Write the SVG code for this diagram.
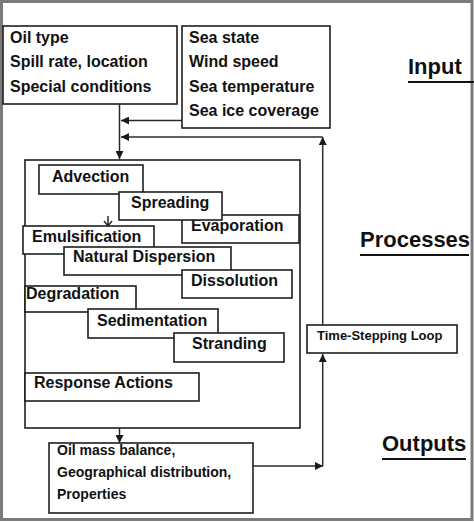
<svg xmlns="http://www.w3.org/2000/svg" width="474" height="522" viewBox="0 0 474 522">
<defs>
<marker id="ah" viewBox="0 0 10 10" refX="10" refY="5" markerUnits="userSpaceOnUse" markerWidth="9" markerHeight="8" orient="auto">
<path d="M0,0 L10,5 L0,10 z" fill="#1a1a1a"/>
</marker>
<style>
.bx{fill:#fff;stroke:#1f1f1f;stroke-width:1.6}
.t{font-family:"Liberation Sans",Arial,sans-serif;font-weight:bold;font-size:16px;fill:#111}
.s{font-size:14px}
.xs{font-size:13px}
.h{font-family:"Liberation Sans",Arial,sans-serif;font-weight:bold;font-size:22px;fill:#111}
.ul{stroke:#111;stroke-width:2.2}
.c{fill:none;stroke:#2a2a2a;stroke-width:1.5}
</style>
</defs>
<rect width="474" height="522" fill="#fff"/>
<rect x="1.5" y="1.5" width="470.5" height="518" fill="none" stroke="#7a7a7a" stroke-width="3"/>

<g id="headings">
<text class="h" x="408" y="74">Input</text>
<line class="ul" x1="408" y1="82" x2="474" y2="82"/>
<text class="h" x="360" y="247">Processes</text>
<line class="ul" x1="360" y1="255" x2="469" y2="255"/>
<text class="h" x="382" y="451">Outputs</text>
<line class="ul" x1="382" y1="459" x2="466" y2="459"/>
</g>

<g id="oil-input">
<rect class="bx" x="3" y="26" width="174" height="78"/>
<text class="t" x="10" y="43">Oil type</text>
<text class="t" x="10" y="67">Spill rate, location</text>
<text class="t" x="10" y="92">Special conditions</text>
</g>

<g id="sea-input">
<rect class="bx" x="182" y="26" width="148" height="102"/>
<text class="t" x="189" y="43">Sea state</text>
<text class="t" x="189" y="67">Wind speed</text>
<text class="t" x="189" y="92">Sea temperature</text>
<text class="t" x="189" y="116">Sea ice coverage</text>
</g>

<g id="processes">
<rect class="bx" x="25" y="160" width="275" height="268"/>
<g id="advection"><rect class="bx" x="39" y="165" width="104" height="29"/><text class="t" x="52" y="182">Advection</text></g>
<g id="evaporation"><rect class="bx" x="182" y="215" width="117" height="28"/><text class="t" x="191" y="231">Evaporation</text></g>
<g id="spreading"><rect class="bx" x="119" y="192" width="103" height="28"/><text class="t" x="131" y="208">Spreading</text></g>
<g id="emulsification"><rect class="bx" x="23" y="226" width="131" height="28"/><text class="t" x="32" y="242">Emulsification</text></g>
<g id="natural-dispersion"><rect class="bx" x="64" y="247" width="167" height="28"/><text class="t" x="73" y="262">Natural Dispersion</text></g>
<g id="dissolution"><rect class="bx" x="182" y="270" width="110" height="28"/><text class="t" x="191" y="286">Dissolution</text></g>
<g id="degradation"><rect class="bx" x="25" y="286" width="111" height="26"/><text class="t" x="26" y="299">Degradation</text></g>
<g id="sedimentation"><rect class="bx" x="88" y="309" width="130" height="29"/><text class="t" x="97" y="326">Sedimentation</text></g>
<g id="stranding"><rect class="bx" x="174" y="333" width="110" height="29"/><text class="t" x="192" y="349">Stranding</text></g>
<g id="response-actions"><rect class="bx" x="25" y="373" width="174" height="28"/><text class="t" x="34" y="388">Response Actions</text></g>
</g>

<g id="time-loop">
<rect class="bx" x="307" y="325" width="150" height="28"/>
<text class="t xs" x="317" y="340">Time-Stepping Loop</text>
</g>

<g id="outputs">
<rect class="bx" x="49" y="443" width="204" height="70"/>
<text class="t s" x="57" y="455">Oil mass balance,</text>
<text class="t s" x="57" y="477">Geographical distribution,</text>
<text class="t s" x="57" y="499">Properties</text>
</g>

<g id="connectors">
<path class="c" d="M119.5,104 V159" marker-end="url(#ah)"/>
<path class="c" d="M182,120.5 H121" marker-end="url(#ah)"/>
<path class="c" d="M322.7,325 V137" marker-end="url(#ah)"/>
<path class="c" d="M322.7,137 H121" marker-end="url(#ah)"/>
<path class="c" d="M119.5,428 V443" marker-end="url(#ah)"/>
<path class="c" d="M253,466 H323" marker-end="url(#ah)"/>
<path class="c" d="M322.7,466 V354" marker-end="url(#ah)"/>
<path class="c" d="M108,216 V226 M104,221 L108,226 L112,221"/>
</g>
</svg>
